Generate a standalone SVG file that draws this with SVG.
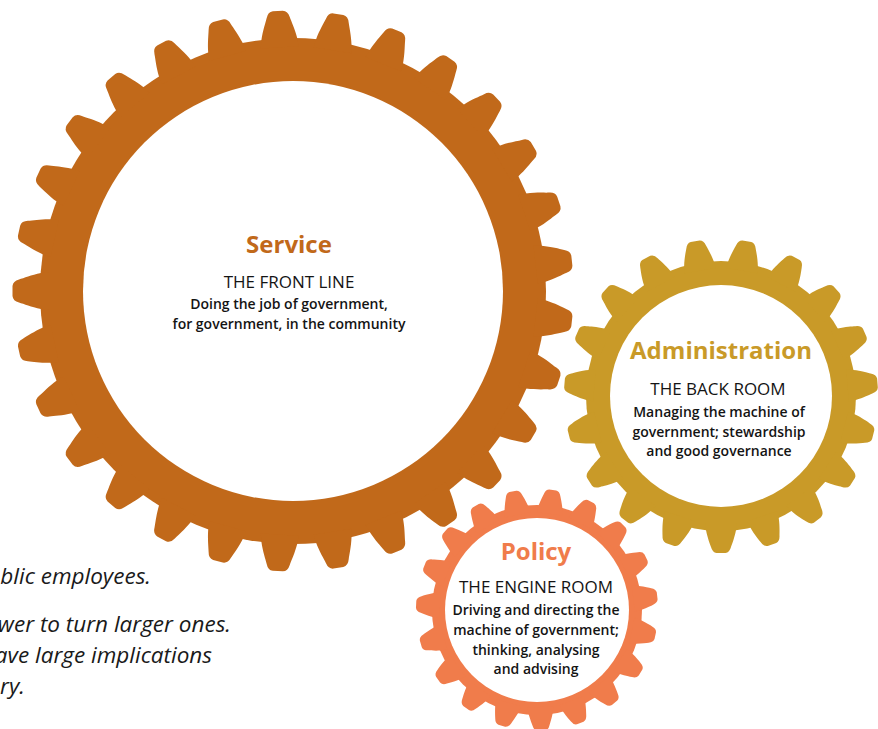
<svg xmlns="http://www.w3.org/2000/svg" width="878" height="729" viewBox="0 0 878 729">
<style>
.hd{font-family:"Open Sans","Liberation Sans",sans-serif;font-weight:700;font-size:24px;text-anchor:middle}
.cap{font-family:"Open Sans","Liberation Sans",sans-serif;font-weight:400;font-size:17px;text-anchor:middle;fill:#141414}
.bd{font-family:"Open Sans","Liberation Sans",sans-serif;font-weight:600;font-size:14px;text-anchor:middle;fill:#141414}
.it{font-family:"Open Sans","Liberation Sans",sans-serif;font-style:italic;font-size:22.5px;text-anchor:end;fill:#1a1a1a}
.svc{fill:#C1691A}.adm{fill:#C99A28}.pol{fill:#F07C4B}
</style>
<defs>
<path id="tb" d="M244,-19 L252,-18 C262,-16 269,-13 274,-11.5 Q280,-10 280.5,-5 L280.5,5 Q280,10 274,11.5 C269,13 262,16 252,18 L244,19 Z"/>
<path id="ta" d="M127,-16 L134,-15 C142,-13.5 148,-11 151,-10 Q156.5,-8.5 157,-4.5 L157,4.5 Q156.5,8.5 151,10 C148,11 142,13.5 134,15 L127,16 Z"/>
<path id="tp" d="M97,-13 L104,-12 C110,-10.5 114,-9 116,-8.3 Q120.5,-7 121,-3.5 L121,3.5 Q120.5,7 116,8.3 C114,9 110,10.5 104,12 L97,13 Z"/>
</defs>

<g id="service">
<g class="svc" transform="translate(293,291)">
<circle r="253"/>
<use href="#tb" transform="rotate(6.207)"/><use href="#tb" transform="rotate(18.621)"/><use href="#tb" transform="rotate(31.034)"/><use href="#tb" transform="rotate(43.448)"/><use href="#tb" transform="rotate(55.862)"/><use href="#tb" transform="rotate(68.276)"/><use href="#tb" transform="rotate(80.690)"/><use href="#tb" transform="rotate(93.103)"/><use href="#tb" transform="rotate(105.517)"/><use href="#tb" transform="rotate(117.931)"/><use href="#tb" transform="rotate(130.345)"/><use href="#tb" transform="rotate(142.759)"/><use href="#tb" transform="rotate(155.172)"/><use href="#tb" transform="rotate(167.586)"/><use href="#tb" transform="rotate(180)"/><use href="#tb" transform="rotate(192.414)"/><use href="#tb" transform="rotate(204.828)"/><use href="#tb" transform="rotate(217.241)"/><use href="#tb" transform="rotate(229.655)"/><use href="#tb" transform="rotate(242.069)"/><use href="#tb" transform="rotate(254.483)"/><use href="#tb" transform="rotate(266.897)"/><use href="#tb" transform="rotate(279.310)"/><use href="#tb" transform="rotate(291.724)"/><use href="#tb" transform="rotate(304.138)"/><use href="#tb" transform="rotate(316.552)"/><use href="#tb" transform="rotate(328.966)"/><use href="#tb" transform="rotate(341.379)"/><use href="#tb" transform="rotate(353.793)"/>
<circle r="210" fill="#fff"/>
</g>
<text class="hd svc" x="289" y="253">Service</text>
<text class="cap" x="289" y="288">THE FRONT LINE</text>
<text class="bd" x="289" y="309">Doing the job of government,</text>
<text class="bd" x="289" y="329">for government, in the community</text>
</g>

<g id="administration">
<g class="adm" transform="translate(721,396)">
<circle r="135"/>
<use href="#ta" transform="rotate(90)"/><use href="#ta" transform="rotate(108.947)"/><use href="#ta" transform="rotate(127.895)"/><use href="#ta" transform="rotate(146.842)"/><use href="#ta" transform="rotate(165.789)"/><use href="#ta" transform="rotate(184.737)"/><use href="#ta" transform="rotate(203.684)"/><use href="#ta" transform="rotate(222.632)"/><use href="#ta" transform="rotate(241.579)"/><use href="#ta" transform="rotate(260.526)"/><use href="#ta" transform="rotate(279.474)"/><use href="#ta" transform="rotate(298.421)"/><use href="#ta" transform="rotate(317.368)"/><use href="#ta" transform="rotate(336.316)"/><use href="#ta" transform="rotate(355.263)"/><use href="#ta" transform="rotate(14.211)"/><use href="#ta" transform="rotate(33.158)"/><use href="#ta" transform="rotate(52.105)"/><use href="#ta" transform="rotate(71.053)"/>
<circle r="111" fill="#fff"/>
</g>
<text class="hd adm" x="721" y="359">Administration</text>
<text class="cap" x="718" y="395">THE BACK ROOM</text>
<text class="bd" x="719" y="417">Managing the machine of</text>
<text class="bd" x="719" y="437">government; stewardship</text>
<text class="bd" x="719" y="456">and good governance</text>
</g>

<g id="policy">
<g class="pol" transform="translate(537,610)">
<circle r="105"/>
<g transform="rotate(-2)">
<use href="#tp" transform="rotate(90)"/><use href="#tp" transform="rotate(108.947)"/><use href="#tp" transform="rotate(127.895)"/><use href="#tp" transform="rotate(146.842)"/><use href="#tp" transform="rotate(165.789)"/><use href="#tp" transform="rotate(184.737)"/><use href="#tp" transform="rotate(203.684)"/><use href="#tp" transform="rotate(222.632)"/><use href="#tp" transform="rotate(241.579)"/><use href="#tp" transform="rotate(260.526)"/><use href="#tp" transform="rotate(279.474)"/><use href="#tp" transform="rotate(298.421)"/><use href="#tp" transform="rotate(317.368)"/><use href="#tp" transform="rotate(336.316)"/><use href="#tp" transform="rotate(355.263)"/><use href="#tp" transform="rotate(14.211)"/><use href="#tp" transform="rotate(33.158)"/><use href="#tp" transform="rotate(52.105)"/><use href="#tp" transform="rotate(71.053)"/>
</g>
<circle r="92" fill="#fff"/>
</g>
<text class="hd pol" x="536" y="560">Policy</text>
<text class="cap" x="536" y="593">THE ENGINE ROOM</text>
<text class="bd" x="536" y="615">Driving and directing the</text>
<text class="bd" x="536" y="635">machine of government;</text>
<text class="bd" x="536" y="655">thinking, analysing</text>
<text class="bd" x="536" y="674">and advising</text>
</g>

<g id="caption">
<text class="it" x="151" y="584">blic employees.</text>
<text class="it" x="231" y="632">wer to turn larger ones.</text>
<text class="it" x="212" y="663">ave large implications</text>
<text class="it" x="25" y="694">ry.</text>
</g>
<g id="connectors"/>
</svg>
